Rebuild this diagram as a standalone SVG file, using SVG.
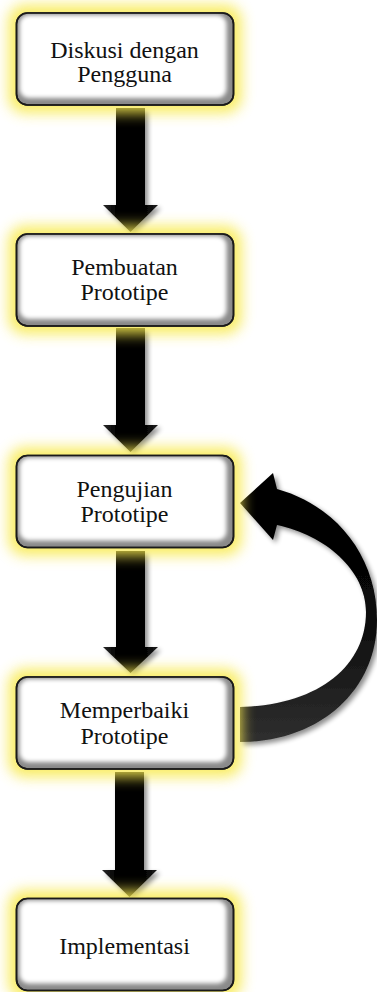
<svg xmlns="http://www.w3.org/2000/svg" width="377" height="992" viewBox="0 0 377 992">
<defs>
<style>
.lbl{font-family:"Liberation Serif","Times New Roman",serif;font-size:24px;fill:#111;text-anchor:middle}
.glow{fill:#f8ea50;opacity:0.9;filter:url(#blur6)}
.frame{fill:#8a8a8a;stroke:#1a1a1a;stroke-width:1.6}
.face{fill:#fff;filter:url(#blur2)}
.arr{fill:url(#shaft);filter:url(#shadow)}
</style>
<filter id="blur6" x="-30%" y="-40%" width="160%" height="180%"><feGaussianBlur stdDeviation="7"/></filter>
<filter id="blur2" x="-10%" y="-10%" width="120%" height="120%"><feGaussianBlur stdDeviation="2"/></filter>
<filter id="shadow" x="-30%" y="-10%" width="170%" height="130%">
<feGaussianBlur in="SourceAlpha" stdDeviation="2.5"/>
<feOffset dx="3" dy="3" result="b"/>
<feComponentTransfer><feFuncA type="linear" slope="0.45"/></feComponentTransfer>
<feMerge><feMergeNode/><feMergeNode in="SourceGraphic"/></feMerge>
</filter>
<linearGradient id="shaft" x1="0" y1="0" x2="1" y2="0">
<stop offset="0" stop-color="#2a2a2a"/>
<stop offset="0.25" stop-color="#000"/>
<stop offset="0.75" stop-color="#000"/>
<stop offset="1" stop-color="#1c1c1c"/>
</linearGradient>
<linearGradient id="curve" x1="0" y1="470" x2="0" y2="745" gradientUnits="userSpaceOnUse">
<stop offset="0" stop-color="#000"/>
<stop offset="0.5" stop-color="#080808"/>
<stop offset="1" stop-color="#303030"/>
</linearGradient>
<clipPath id="rr"><rect x="0" y="0" width="217" height="92" rx="11"/></clipPath>
</defs>

<g id="connectors">
<path class="arr" d="M116 108H145V205H158L130.5 232L103 205H116Z"/>
<path class="arr" d="M116 328H145V425H158L130.5 452L103 425H116Z"/>
<path class="arr" d="M116 551H145V647H158L130.5 673L103 647H116Z"/>
<path class="arr" d="M115 772H144V870H157L129.5 897L102 870H115Z"/>
<path filter="url(#shadow)" fill="url(#curve)" d="M240 742C320 742 377 690 377 620C377 555 335 505 277 489L273 473L240 503L273 540L277 525C325 535 366 570 366 612C366 665 320 705 240 707Z"/>
</g>

<g id="n1" transform="translate(16.5,13)">
<rect class="glow" x="-8" y="-8" width="233" height="108" rx="16"/>
<rect class="frame" width="217" height="92" rx="11"/>
<g clip-path="url(#rr)"><rect class="face" x="3" y="2" width="207" height="83" rx="9"/></g>
<rect width="217" height="92" rx="11" fill="none" stroke="#1a1a1a" stroke-width="1.6"/>
<text class="lbl" x="108" y="45">Diskusi dengan</text>
<text class="lbl" x="108" y="69">Pengguna</text>
</g>

<g id="n2" transform="translate(16.5,234)">
<rect class="glow" x="-8" y="-8" width="233" height="108" rx="16"/>
<rect class="frame" width="217" height="92" rx="11"/>
<g clip-path="url(#rr)"><rect class="face" x="3" y="2" width="207" height="83" rx="9"/></g>
<rect width="217" height="92" rx="11" fill="none" stroke="#1a1a1a" stroke-width="1.6"/>
<text class="lbl" x="108" y="41">Pembuatan</text>
<text class="lbl" x="108" y="66">Prototipe</text>
</g>

<g id="n3" transform="translate(16.5,455.5)">
<rect class="glow" x="-8" y="-8" width="233" height="108" rx="16"/>
<rect class="frame" width="217" height="92" rx="11"/>
<g clip-path="url(#rr)"><rect class="face" x="3" y="2" width="207" height="83" rx="9"/></g>
<rect width="217" height="92" rx="11" fill="none" stroke="#1a1a1a" stroke-width="1.6"/>
<text class="lbl" x="108" y="41.5">Pengujian</text>
<text class="lbl" x="108" y="66.5">Prototipe</text>
</g>

<g id="n4" transform="translate(16.5,677)">
<rect class="glow" x="-8" y="-8" width="233" height="108" rx="16"/>
<rect class="frame" width="217" height="92" rx="11"/>
<g clip-path="url(#rr)"><rect class="face" x="3" y="2" width="207" height="83" rx="9"/></g>
<rect width="217" height="92" rx="11" fill="none" stroke="#1a1a1a" stroke-width="1.6"/>
<text class="lbl" x="108" y="41">Memperbaiki</text>
<text class="lbl" x="108" y="67">Prototipe</text>
</g>

<g id="n5" transform="translate(16.5,898.5)">
<rect class="glow" x="-8" y="-8" width="233" height="108" rx="16"/>
<rect class="frame" width="217" height="92" rx="11"/>
<g clip-path="url(#rr)"><rect class="face" x="3" y="2" width="207" height="83" rx="9"/></g>
<rect width="217" height="92" rx="11" fill="none" stroke="#1a1a1a" stroke-width="1.6"/>
<text class="lbl" x="108" y="55.5">Implementasi</text>
</g>
</svg>
